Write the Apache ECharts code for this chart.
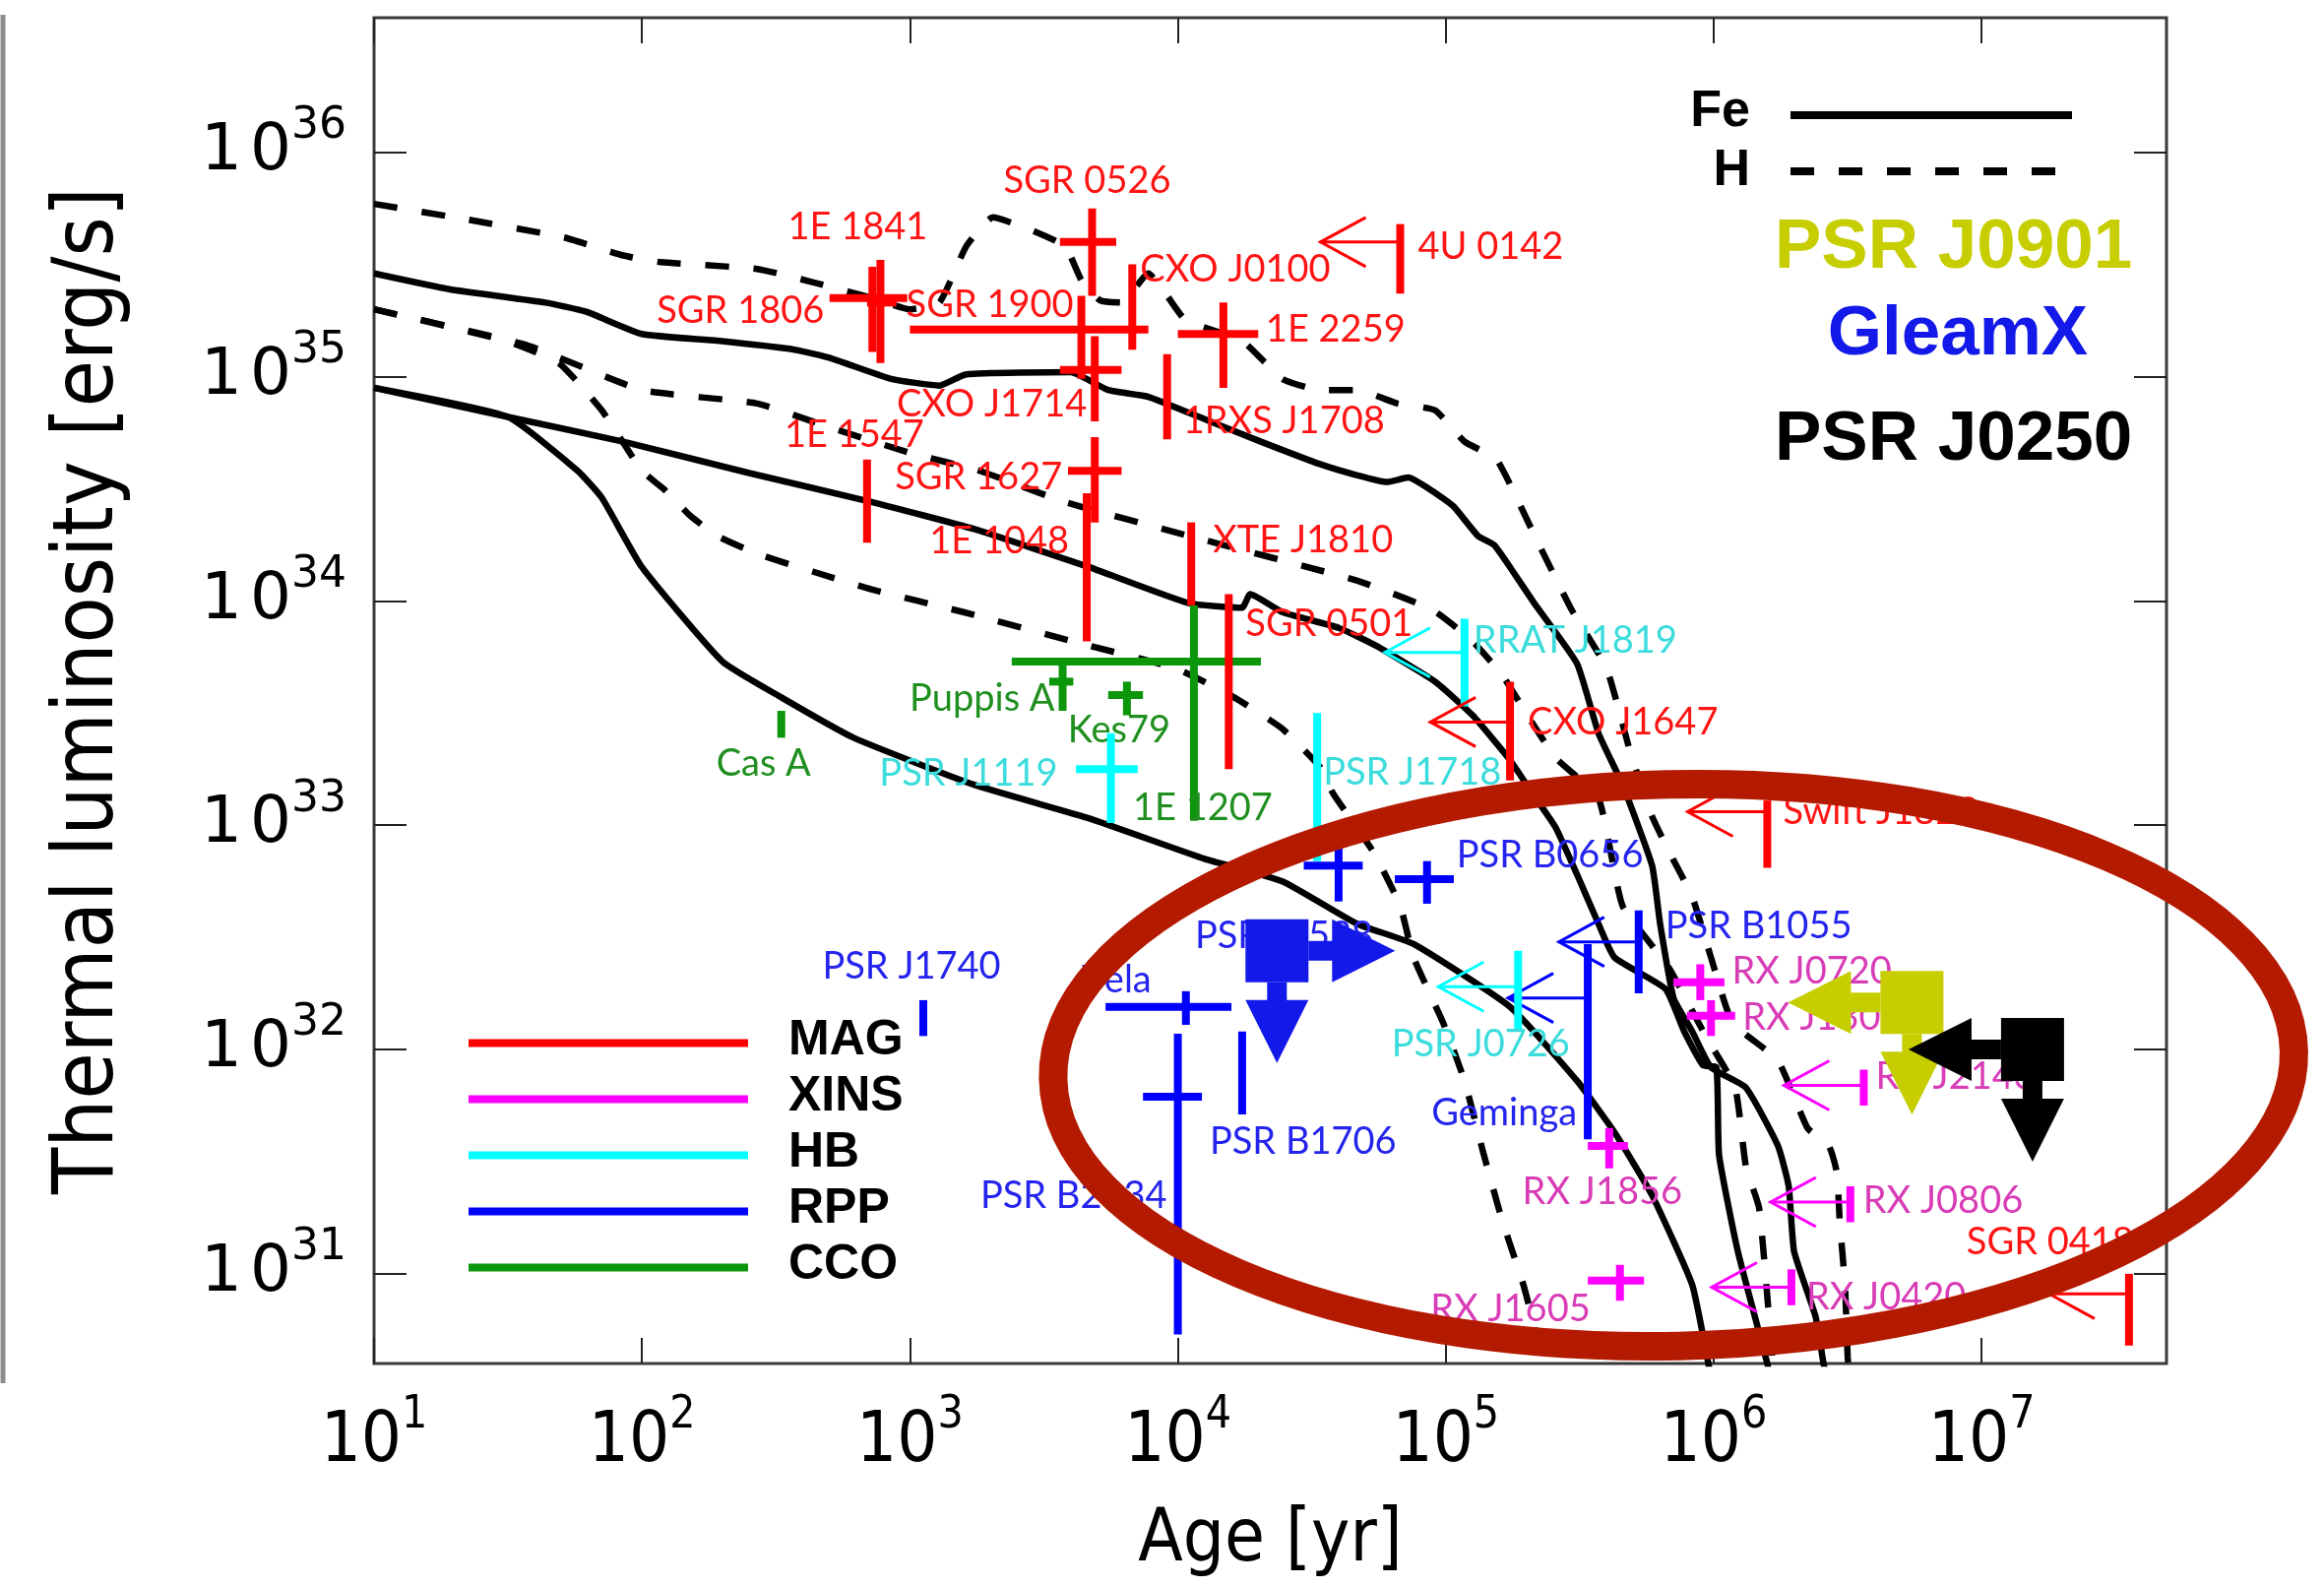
<!DOCTYPE html>
<html>
<head>
<meta charset="utf-8">
<script src="https://cdn.jsdelivr.net/npm/echarts@6/dist/echarts.min.js"></script>
<style>
  html, body { margin: 0; padding: 0; background: #ffffff; }
  #chart { width: 2361px; height: 1612px; }
</style>
</head>
<body>
<div id="chart"></div>
<script>
// Thermal luminosity of isolated neutron stars versus age, with cooling
// curves for iron (Fe) and hydrogen (H) envelopes. Both axes are log10.

const X_TICKS = [1, 2, 3, 4, 5, 6, 7];          // log10 age [yr]
const Y_TICKS = [31, 32, 33, 34, 35, 36];       // log10 L [erg/s]

// Cooling curves: [log10 age, log10 L]
const FE_1 = [[1.00,35.46],[1.28,35.39],[1.64,35.33],[1.79,35.29],[2.00,35.19],[2.28,35.16],[2.57,35.12],[2.71,35.08],[2.93,34.99],[3.11,34.96],[3.21,35.01],[3.60,35.02],[3.74,34.94],[3.89,34.91],[4.10,34.81],[4.31,34.71],[4.53,34.61],[4.67,34.56],[4.78,34.53],[4.86,34.55],[4.95,34.49],[5.03,34.42],[5.12,34.29],[5.18,34.25],[5.24,34.15],[5.33,33.99],[5.49,33.72],[5.57,33.41],[5.66,33.18],[5.77,32.82],[5.80,32.56],[5.85,32.23],[5.92,32.08],[5.99,31.92],[6.12,31.83],[6.24,31.57],[6.28,31.39],[6.30,31.10],[6.38,30.81],[6.41,30.60],[6.43,30.48]];
const FE_2 = [[1.00,34.95],[1.50,34.82],[1.93,34.71],[2.40,34.57],[2.86,34.44],[3.24,34.32],[3.67,34.15],[4.04,33.99],[4.24,33.97],[4.27,34.03],[4.39,33.95],[4.60,33.88],[4.74,33.80],[4.96,33.64],[5.10,33.49],[5.24,33.29],[5.33,33.13],[5.41,32.99],[5.49,32.78],[5.57,32.56],[5.63,32.41],[5.82,32.27],[5.89,32.08],[5.96,31.93],[6.01,31.92],[6.02,31.53],[6.09,31.10],[6.20,30.60],[6.22,30.48]];
const FE_3 = [[1.00,34.95],[1.50,34.82],[1.76,34.58],[1.85,34.46],[2.00,34.15],[2.30,33.73],[2.52,33.57],[2.79,33.39],[3.24,33.18],[3.67,33.03],[4.10,32.85],[4.39,32.75],[4.67,32.56],[4.88,32.47],[5.24,32.19],[5.49,31.86],[5.63,31.63],[5.77,31.35],[5.92,30.95],[5.98,30.60],[6.00,30.48]];
const H_1 = [[1.00,35.77],[1.35,35.70],[1.71,35.62],[1.93,35.54],[2.07,35.51],[2.43,35.48],[2.64,35.42],[2.86,35.35],[3.00,35.30],[3.11,35.33],[3.21,35.58],[3.31,35.71],[3.46,35.65],[3.58,35.58],[3.64,35.43],[3.71,35.34],[3.79,35.33],[3.89,35.46],[3.96,35.36],[4.03,35.25],[4.24,35.16],[4.39,34.99],[4.53,34.94],[4.67,34.94],[4.82,34.88],[4.96,34.85],[5.07,34.71],[5.19,34.63],[5.34,34.27],[5.47,33.96],[5.60,33.70],[5.69,33.32],[5.77,33.04],[5.83,32.89],[5.92,32.68],[5.99,32.41],[6.07,32.12],[6.24,31.95],[6.35,31.65],[6.43,31.57],[6.46,31.45],[6.47,31.24],[6.49,30.95],[6.50,30.63],[6.51,30.48]];
const H_2 = [[1.00,35.30],[1.57,35.14],[2.00,34.94],[2.43,34.88],[2.71,34.77],[3.00,34.66],[3.26,34.58],[3.58,34.44],[4.04,34.29],[4.67,34.09],[4.95,33.96],[5.10,33.82],[5.21,33.67],[5.31,33.48],[5.41,33.30],[5.57,33.12],[5.66,32.64],[5.83,32.37],[5.97,32.06],[6.08,31.83],[6.12,31.48],[6.17,31.29],[6.22,30.61],[6.23,30.48]];
const H_3 = [[1.00,35.30],[1.49,35.16],[1.69,35.06],[1.85,34.85],[2.00,34.58],[2.08,34.50],[2.18,34.38],[2.28,34.29],[2.43,34.21],[2.64,34.13],[2.86,34.05],[3.20,33.95],[3.67,33.80],[3.99,33.70],[4.21,33.57],[4.39,33.43],[4.53,33.26],[4.58,33.14],[4.73,32.88],[4.83,32.64],[4.88,32.41],[4.99,32.12],[5.07,31.86],[5.14,31.54],[5.21,31.24],[5.29,30.95],[5.36,30.62],[5.37,30.48]];

// Sources: [name, log age, log age min, log age max, log L, log L min, log L max, age is upper limit]
const MAG = [
  ['SGR 1806', 2.86, 2.70, 2.99, 35.35, 35.11, 35.49, 0],
  ['1E 1841', 2.89, 2.84, 2.95, 35.33, 35.06, 35.52, 0],
  ['SGR 0526', 3.68, 3.56, 3.77, 35.60, 35.36, 35.75, 0],
  ['SGR 1900', 3.64, 3.00, 3.89, 35.21, 34.99, 35.36, 0],
  ['CXO J0100', 3.83, 3.83, 3.83, 35.31, 35.12, 35.50, 0],
  ['1E 2259', 4.17, 4.00, 4.30, 35.19, 34.95, 35.33, 0],
  ['4U 0142', 4.83, 4.83, 4.83, 35.60, 35.37, 35.68, 1],
  ['1RXS J1708', 3.96, 3.96, 3.96, 34.91, 34.72, 35.10, 0],
  ['CXO J1714', 3.69, 3.56, 3.79, 35.03, 34.80, 35.18, 0],
  ['SGR 1627', 3.69, 3.59, 3.79, 34.58, 34.35, 34.73, 0],
  ['1E 1547', 2.84, 2.84, 2.84, 34.44, 34.26, 34.63, 0],
  ['1E 1048', 3.66, 3.66, 3.66, 34.15, 33.82, 34.48, 0],
  ['XTE J1810', 4.05, 4.05, 4.05, 34.17, 33.98, 34.35, 0],
  ['SGR 0501', 4.19, 4.19, 4.19, 33.64, 33.25, 34.03, 0],
  ['CXO J1647', 5.24, 5.24, 5.24, 33.46, 33.20, 33.64, 1],
  ['Swift J1822', 6.20, 6.20, 6.20, 33.06, 32.81, 33.11, 1],
  ['SGR 0418', 7.55, 7.55, 7.55, 30.91, 30.68, 31.00, 1]
];
const XINS = [
  ['RX J0720', 5.95, 5.85, 6.04, 32.30, 32.22, 32.38, 0],
  ['RX J1308', 5.99, 5.90, 6.08, 32.15, 32.06, 32.22, 0],
  ['RX J2143', 6.56, 6.56, 6.56, 31.84, 31.75, 31.91, 1],
  ['RX J1856', 5.61, 5.53, 5.68, 31.57, 31.47, 31.65, 0],
  ['RX J0806', 6.51, 6.51, 6.51, 31.32, 31.23, 31.39, 1],
  ['RX J1605', 5.65, 5.53, 5.74, 30.97, 30.88, 31.04, 0],
  ['RX J0420', 6.29, 6.29, 6.29, 30.94, 30.86, 31.02, 1]
];
const HB = [
  ['RRAT J1819', 5.07, 5.07, 5.07, 33.77, 33.53, 33.92, 1],
  ['PSR J1119', 3.75, 3.62, 3.85, 33.25, 33.01, 33.41, 0],
  ['PSR J1718', 4.52, 4.52, 4.52, 33.17, 32.84, 33.50, 0],
  ['PSR J0726', 5.27, 5.27, 5.27, 32.28, 32.08, 32.44, 1]
];
const RPP = [
  ['PSR B0656', 4.93, 4.81, 5.03, 32.76, 32.65, 32.84, 0],
  ['PSR J0538', 4.60, 4.47, 4.69, 32.82, 32.66, 32.93, 0],
  ['PSR B1055', 5.72, 5.72, 5.72, 32.48, 32.25, 32.62, 1],
  ['Geminga', 5.53, 5.53, 5.53, 32.23, 31.60, 32.47, 1],
  ['Vela', 4.03, 3.73, 4.20, 32.19, 32.11, 32.26, 0],
  ['PSR B2334', 4.00, 3.87, 4.09, 31.79, 30.73, 32.07, 0],
  ['PSR B1706', 4.24, 4.24, 4.24, 31.90, 31.71, 32.08, 0],
  ['PSR J1740', 3.05, 3.05, 3.05, 32.14, 32.06, 32.22, 0]
];
const CCO = [
  ['Cas A', 2.52, 2.52, 2.52, 33.45, 33.39, 33.51, 0],
  ['Puppis A', 3.57, 3.52, 3.61, 33.64, 33.51, 33.74, 0],
  ['Kes79', 3.81, 3.74, 3.87, 33.58, 33.49, 33.64, 0],
  ['1E 1207', 4.06, 3.38, 4.31, 33.73, 33.02, 33.98, 0]
];

// New sources: [name, log age, log L, direction of the age-limit arrow]
const HIGHLIGHT = [
  ['GleamX', 4.37, 32.44, 1],
  ['PSR J0901', 6.74, 32.21, -1],
  ['PSR J0250', 7.19, 32.00, -1]
];

// ---------------------------------------------------------------------------
// Layout and styling

// label placement relative to each source: [dx px, dy px, alignment]
const LABEL_OFFSET = {
  'SGR 1806': [-49, 13, 'right'], '1E 1841': [-23, -77, 'center'], 'SGR 0526': [-5, -62, 'center'],
  'SGR 1900': [-8, -25, 'right'], 'CXO J0100': [8, -38, 'left'], '1E 2259': [43, -4, 'left'],
  '4U 0142': [18, 5, 'left'], '1RXS J1708': [16, 25, 'left'], 'CXO J1714': [-8, 35, 'right'],
  'SGR 1627': [-33, 7, 'right'], '1E 1547': [-13, -68, 'center'], '1E 1048': [-18, -26, 'right'],
  'XTE J1810': [22, -23, 'left'], 'SGR 0501': [17, -59, 'left'], 'CXO J1647': [18, 0, 'left'],
  'Swift J1822': [16, 0, 'left'], 'SGR 0418': [5, -53, 'right'],
  'RRAT J1819': [9, -12, 'left'], 'PSR J1119': [-54, 5, 'right'], 'PSR J1718': [6, -15, 'left'],
  'PSR J0726': [-38, 59, 'center'],
  'PSR B0656': [30, -24, 'left'], 'PSR J0538': [-146, 72, 'left'], 'PSR B1055': [27, -16, 'left'],
  'Geminga': [-11, 117, 'right'], 'Vela': [-35, -27, 'right'], 'PSR B2334': [-11, 101, 'right'],
  'PSR B1706': [-33, 71, 'left'], 'PSR J1740': [-12, -52, 'center'],
  'RX J0720': [32, -11, 'left'], 'RX J1308': [32, 2, 'left'], 'RX J2143': [12, -9, 'left'],
  'RX J1856': [-7, 47, 'center'], 'RX J0806': [13, -1, 'left'], 'RX J1605': [-30, 29, 'right'],
  'RX J0420': [15, 10, 'left'],
  'Cas A': [-18, 40, 'center'], 'Puppis A': [-8, 17, 'right'], 'Kes79': [-8, 36, 'center'],
  '1E 1207': [-62, 149, 'left']
};

const CLASS_STYLE = {
  MAG:  { bar: '#ff0000', text: '#ff1414' },
  XINS: { bar: '#ff00ff', text: '#d83cb6' },
  HB:   { bar: '#00ffff', text: '#3cdcdc' },
  RPP:  { bar: '#0000ff', text: '#2424ee' },
  CCO:  { bar: '#0c960c', text: '#1f8f1f' }
};
const HIGHLIGHT_COLOR = { 'GleamX': '#1219e8', 'PSR J0901': '#c7ce00', 'PSR J0250': '#000000' };

// highlighted region around the new long-period sources
const RING = { age: 5.85, lum: 31.93, halfAge: 2.316, halfLum: 1.252, tiltDeg: 1.3 };

const BAR_W = 8, THIN_W = 3, ARROW_LEN = 81, HEAD_DX = 46, HEAD_DY = 25;
const LABEL_SIZE = 38;

function pickFont(list, fallback) {
  const ctx = document.createElement('canvas').getContext('2d');
  const probe = 'Thermal luminosity [erg/s] 0123456789';
  ctx.font = '50px monospace';
  const base = ctx.measureText(probe).width;
  for (const f of list) {
    ctx.font = '50px "' + f + '", monospace';
    if (Math.abs(ctx.measureText(probe).width - base) > 1) return f;
  }
  return fallback;
}
const COND = pickFont(['Liberation Sans Narrow', 'DejaVu Sans Condensed', 'Roboto Condensed'], 'Liberation Sans');

function sourceSeries(cls, rows) {
  const st = CLASS_STYLE[cls];
  return {
    type: 'custom',
    name: cls,
    coordinateSystem: 'cartesian2d',
    z: 3,
    clip: false,
    itemStyle: { color: st.bar },
    data: rows.map(r => [r[1], r[4], r[2], r[3], r[5], r[6], r[7]]),
    renderItem(params, api) {
      const row = rows[params.dataIndex];
      const age = api.value(0), lum = api.value(1);
      const c = api.coord([age, lum]);
      const aLo = api.coord([api.value(2), lum])[0];
      const aHi = api.coord([api.value(3), lum])[0];
      const lLo = api.coord([age, api.value(4)])[1];
      const lHi = api.coord([age, api.value(5)])[1];
      const kids = [];
      if (Math.abs(lLo - lHi) > 0.5) {
        kids.push({ type: 'line', shape: { x1: c[0], y1: lHi, x2: c[0], y2: lLo },
          style: { stroke: st.bar, lineWidth: BAR_W } });
      }
      if (Math.abs(aHi - aLo) > 0.5) {
        kids.push({ type: 'line', shape: { x1: aLo, y1: c[1], x2: aHi, y2: c[1] },
          style: { stroke: st.bar, lineWidth: BAR_W } });
      }
      if (api.value(6)) {
        const tip = c[0] - ARROW_LEN;
        kids.push({ type: 'line', shape: { x1: c[0], y1: c[1], x2: tip, y2: c[1] },
          style: { stroke: st.bar, lineWidth: THIN_W } });
        kids.push({ type: 'polyline',
          shape: { points: [[tip + HEAD_DX, c[1] - HEAD_DY], [tip, c[1]], [tip + HEAD_DX, c[1] + HEAD_DY]] },
          style: { stroke: st.bar, lineWidth: THIN_W, fill: 'none' } });
      }
      const off = LABEL_OFFSET[row[0]] || [10, 0, 'left'];
      kids.push({ type: 'text', x: c[0] + off[0], y: c[1] + off[1],
        style: { text: row[0], fill: st.text, fontSize: LABEL_SIZE, fontFamily: 'Lato',
          align: off[2], textAlign: off[2], verticalAlign: 'middle', textVerticalAlign: 'middle' } });
      return { type: 'group', children: kids };
    }
  };
}

function curve(name, data, dashed) {
  return {
    type: 'line', name, data, z: 2,
    symbol: 'none', smooth: 0.15, silent: true,
    lineStyle: { color: '#000', width: 6.5, type: dashed ? [24, 25] : 'solid' }
  };
}

const highlightSeries = {
  type: 'custom', name: 'new sources', coordinateSystem: 'cartesian2d', z: 5, clip: false,
  data: HIGHLIGHT.map(r => [r[1], r[2], r[3]]),
  renderItem(params, api) {
    const col = HIGHLIGHT_COLOR[HIGHLIGHT[params.dataIndex][0]];
    const c = api.coord([api.value(0), api.value(1)]);
    const dir = api.value(2);
    const B = 32, S = dir > 0 ? 24 : 30, SD = 18, T = 10, H = 32, L = 64;
    const e = c[0] + dir * B, s = e + dir * S;
    const eb = c[1] + B, sb = eb + SD;
    return { type: 'group', children: [
      { type: 'rect', shape: { x: c[0] - B, y: c[1] - B, width: 2 * B, height: 2 * B }, style: { fill: col } },
      { type: 'polygon', shape: { points: [[e, c[1] - T], [s, c[1] - T], [s, c[1] - H], [s + dir * L, c[1]],
          [s, c[1] + H], [s, c[1] + T], [e, c[1] + T]] }, style: { fill: col } },
      { type: 'polygon', shape: { points: [[c[0] - T, eb], [c[0] - T, sb], [c[0] - H, sb], [c[0], sb + L],
          [c[0] + H, sb], [c[0] + T, sb], [c[0] + T, eb]] }, style: { fill: col } }
    ] };
  }
};

const ringSeries = {
  type: 'custom', name: 'region', coordinateSystem: 'cartesian2d', z: 6, clip: false, silent: true,
  data: [[RING.age, RING.lum]],
  renderItem(params, api) {
    const c = api.coord([api.value(0), api.value(1)]);
    const s = api.size([RING.halfAge, RING.halfLum]);
    return { type: 'ellipse', shape: { cx: c[0], cy: c[1], rx: s[0], ry: s[1] },
      rotation: RING.tiltDeg * Math.PI / 180, originX: c[0], originY: c[1],
      style: { fill: 'none', stroke: '#b41a00', lineWidth: 29 } };
  }
};

// legends drawn as plain graphics
const CLASS_LEGEND = [['MAG', '#ff0000'], ['XINS', '#ff00ff'], ['HB', '#00ffff'], ['RPP', '#0000ff'], ['CCO', '#0a960a']];
const graphics = [];
CLASS_LEGEND.forEach((it, i) => {
  const y = 1059.5 + i * 57;
  graphics.push({ type: 'line', shape: { x1: 476, y1: y, x2: 760, y2: y }, style: { stroke: it[1], lineWidth: 8 } });
  graphics.push({ type: 'text', x: 801, y: y - 2, style: { text: it[0], fill: '#000', fontSize: 50, fontWeight: 'bold',
    fontFamily: 'Liberation Sans', align: 'left', verticalAlign: 'middle' } });
});
graphics.push({ type: 'text', x: 1778, y: 114, style: { text: 'Fe', fill: '#000', fontSize: 52, fontWeight: 'bold',
  fontFamily: 'Liberation Sans', align: 'right', verticalAlign: 'middle' } });
graphics.push({ type: 'line', shape: { x1: 1819, y1: 117, x2: 2105, y2: 117 }, style: { stroke: '#000', lineWidth: 8 } });
graphics.push({ type: 'text', x: 1778, y: 174, style: { text: 'H', fill: '#000', fontSize: 52, fontWeight: 'bold',
  fontFamily: 'Liberation Sans', align: 'right', verticalAlign: 'middle' } });
graphics.push({ type: 'line', shape: { x1: 1819, y1: 174, x2: 2092, y2: 174 }, style: { stroke: '#000', lineWidth: 8, lineDash: [24, 25] } });
graphics.push({ type: 'text', x: 1803, y: 252, style: { text: 'PSR J0901', fill: HIGHLIGHT_COLOR['PSR J0901'], fontSize: 71,
  fontWeight: 'bold', fontFamily: 'Liberation Sans', align: 'left', verticalAlign: 'middle' } });
graphics.push({ type: 'text', x: 1989, y: 340, style: { text: 'GleamX', fill: HIGHLIGHT_COLOR['GleamX'], fontSize: 71,
  fontWeight: 'bold', fontFamily: 'Liberation Sans', align: 'center', verticalAlign: 'middle' } });
graphics.push({ type: 'text', x: 1803, y: 447, style: { text: 'PSR J0250', fill: '#000', fontSize: 71,
  fontWeight: 'bold', fontFamily: 'Liberation Sans', align: 'left', verticalAlign: 'middle' } });
// edge of the neighbouring panel
graphics.push({ type: 'line', shape: { x1: 3, y1: 15, x2: 3, y2: 1405 }, style: { stroke: '#8c8c8c', lineWidth: 5 } });

const frameColor = '#3a3a3a';
function xAxisDef(pos, labels) {
  return {
    type: 'value', position: pos, min: 1, max: 7.69,
    axisLine: { show: false },
    splitLine: { show: false },
    axisTick: { show: true, inside: true, length: 26, customValues: X_TICKS, lineStyle: { color: '#222', width: 2 } },
    axisLabel: labels ? {
      show: true, customValues: X_TICKS, margin: 30,
      formatter: v => '{m|10}{s|' + v + '}',
      rich: {
        m: { fontFamily: COND, fontSize: 72, lineHeight: 100, color: '#000' },
        s: { fontFamily: COND, fontSize: 46, lineHeight: 46, color: '#000', verticalAlign: 'top' }
      }
    } : { show: false },
    name: labels ? 'Age [yr]' : '',
    nameLocation: 'middle', nameGap: 144,
    nameTextStyle: { fontFamily: COND, fontSize: 74, color: '#000' }
  };
}
function yAxisDef(pos, labels) {
  return {
    type: 'value', position: pos, min: 30.6, max: 36.6,
    axisLine: { show: false },
    splitLine: { show: false },
    axisTick: { show: true, inside: true, length: 33, customValues: Y_TICKS, lineStyle: { color: '#222', width: 2 } },
    axisLabel: labels ? {
      show: true, customValues: Y_TICKS, margin: 28,
      formatter: v => '{a|1}{b|0}{s|' + v + '}',
      rich: {
        a: { fontFamily: 'DejaVu Sans', fontSize: 66, lineHeight: 96, color: '#000', padding: [0, 8, 0, 0] },
        b: { fontFamily: 'DejaVu Sans', fontSize: 66, lineHeight: 96, color: '#000' },
        s: { fontFamily: 'DejaVu Sans', fontSize: 44, lineHeight: 44, color: '#000', verticalAlign: 'top' }
      }
    } : { show: false },
    name: labels ? 'Thermal luminosity [erg/s]' : '',
    nameLocation: 'middle', nameRotate: 90, nameGap: 245,
    nameTextStyle: { fontFamily: COND, fontSize: 86, color: '#000' }
  };
}

const chart = echarts.init(document.getElementById('chart'), null, { renderer: 'canvas' });
chart.setOption({
  backgroundColor: '#ffffff',
  animation: false,
  grid: { left: 380, right: 160, top: 18, bottom: 227, show: true, borderColor: frameColor, borderWidth: 3, backgroundColor: 'transparent' },
  xAxis: [xAxisDef('bottom', true), xAxisDef('top', false)],
  yAxis: [yAxisDef('left', true), yAxisDef('right', false)],
  graphic: { elements: graphics },
  series: [
    curve('Fe', FE_1, false), curve('Fe', FE_2, false), curve('Fe', FE_3, false),
    curve('H', H_1, true), curve('H', H_2, true), curve('H', H_3, true),
    sourceSeries('CCO', CCO), sourceSeries('RPP', RPP), sourceSeries('HB', HB),
    sourceSeries('XINS', XINS), sourceSeries('MAG', MAG),
    highlightSeries, ringSeries
  ]
});
</script>
</body>
</html>
